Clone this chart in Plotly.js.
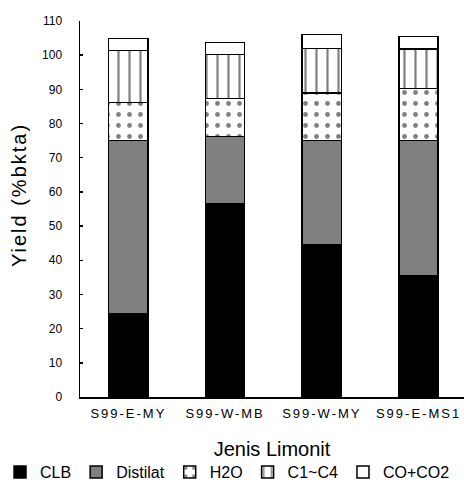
<!DOCTYPE html>
<html>
<head>
<meta charset="utf-8">
<script src="https://cdn.plot.ly/plotly-3.0.1.min.js"></script>
<style>
html,body{margin:0;padding:0;overflow:hidden;background:#fff}
#chart{width:464px;height:484px}
.g-ytitle text{letter-spacing:2px}
.g-ytitle{transform:translate(-2px,-14px)}
.xtick text{letter-spacing:2px}
</style>
</head>
<body>
<div id="chart"></div>
<script>
var categories = ["S99-E-MY", "S99-W-MB", "S99-W-MY", "S99-E-MS1"];
var clb = [24.4, 56.5, 44.4, 35.5];
var distilat = [50.6, 19.7, 30.6, 39.5];
var h2o = [11.1, 11.2, 14.0, 15.3];
var c1c4 = [15.2, 12.8, 13.0, 11.5];
var coco2 = [3.6, 3.5, 4.0, 3.7];
var yTicks = [0, 10, 20, 30, 40, 50, 60, 70, 80, 90, 100, 110];

var line = {color: "#000", width: 1.5};
function bar(name, y, fill, pattern) {
  var m = {color: fill, line: line};
  if (pattern) m.pattern = pattern;
  return {type: "bar", name: name, x: categories, y: y, width: 0.406, marker: m};
}
var data = [
  bar("CLB", clb, "#000000"),
  bar("Distilat", distilat, "#808080"),
  bar("H2O", h2o, "#ffffff", {shape: ".", size: 11, solidity: 0.15, fgcolor: "#000", bgcolor: "#fff", fillmode: "overlay"}),
  bar("C1~C4", c1c4, "#ffffff", {shape: "|", size: 11, solidity: 0.2, fgcolor: "#000", bgcolor: "#fff", fillmode: "overlay"}),
  bar("CO+CO2", coco2, "#ffffff")
];
var fam = "Liberation Sans, Arial, sans-serif";
var layout = {
  width: 464, height: 484,
  margin: {l: 80, r: 0, t: 21, b: 87, autoexpand: false},
  barmode: "stack",
  paper_bgcolor: "#fff", plot_bgcolor: "#fff",
  font: {family: fam, color: "#000"},
  showlegend: true,
  xaxis: {
    range: [-0.5, 3.47], automargin: false,
    showline: true, linecolor: "#000", linewidth: 1.5,
    ticks: "", showgrid: false, zeroline: false,
    ticklabelstandoff: 4,
    tickfont: {family: fam, size: 13, color: "#000"},
    title: {text: "Jenis Limonit", font: {family: fam, size: 20, color: "#000"}, standoff: 22}
  },
  yaxis: {
    range: [0, 110], tickvals: yTicks, automargin: false,
    showline: true, linecolor: "#000", linewidth: 1.5,
    ticks: "inside", ticklen: 3, tickwidth: 1.5, tickcolor: "#000",
    showgrid: false, zeroline: false,
    ticklabelstandoff: 14,
    tickfont: {family: fam, size: 12, color: "#000"},
    title: {text: "Yield (%bkta)", font: {family: fam, size: 20, color: "#000"}, standoff: 8}
  },
  legend: {
    orientation: "h", x: -0.2083, xanchor: "left", y: -0.2, yanchor: "middle",
    font: {family: fam, size: 16, color: "#000"},
    traceorder: "normal", itemwidth: 30,
    bgcolor: "rgba(0,0,0,0)"
  }
};
Plotly.newPlot("chart", data, layout, {staticPlot: true});
</script>
</body>
</html>
